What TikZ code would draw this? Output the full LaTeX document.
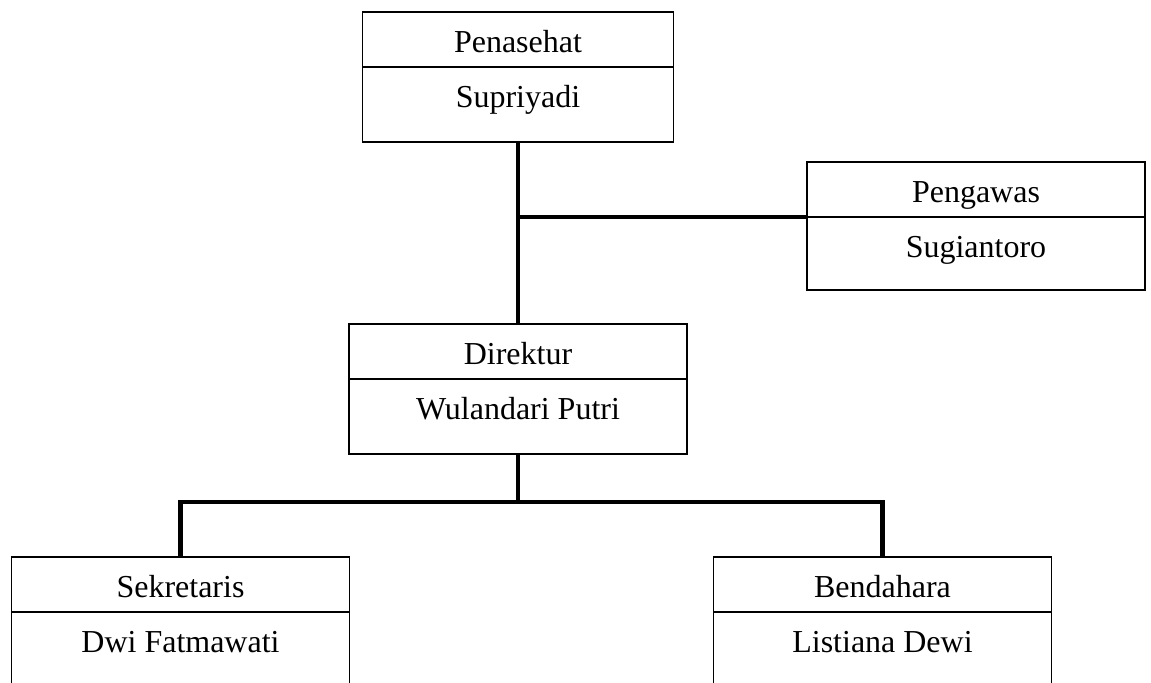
\documentclass[tikz,border=0pt]{standalone}
\usepackage{fontspec}
\setmainfont{Liberation Serif}
\usetikzlibrary{positioning}
\tikzstyle{jabatan} = [rectangle, draw=black, line width=1.1pt, minimum width=6.76cm, inner xsep=0pt, inner ysep=0pt, outer sep=0pt, text height=0.8cm, text depth=0.3cm, anchor=north, text centered, font=\fontsize{18.2}{22}\selectfont]
\tikzstyle{nama} = [jabatan, text depth=0.7cm]
\tikzstyle{garis} = [line width=2.3pt]

\begin{document}
\begin{tikzpicture}
\useasboundingbox (0,0) rectangle (23.02,-13.64);
\clip (0,0) rectangle (23.02,-13.64);

\node (penasehat) [jabatan, minimum width=6.22cm] at (10.36,-0.24) {Penasehat};
\node (nama_penasehat) [nama, minimum width=6.22cm, below=0pt of penasehat] {Supriyadi};

\node (pengawas) [jabatan] at (19.52,-3.24) {Pengawas};
\node (nama_pengawas) [nama, text depth=0.66cm, below=0pt of pengawas] {Sugiantoro};

\node (direktur) [jabatan] at (10.36,-6.48) {Direktur};
\node (nama_direktur) [nama, below=0pt of direktur] {Wulandari Putri};

\node (sekretaris) [jabatan] at (3.61,-11.14) {Sekretaris};
\node (nama_sekretaris) [nama, below=0pt of sekretaris] {Dwi Fatmawati};

\node (bendahara) [jabatan] at (17.65,-11.14) {Bendahara};
\node (nama_bendahara) [nama, below=0pt of bendahara] {Listiana Dewi};

\coordinate (cabang) at ([yshift=-0.96cm]nama_direktur.south);

\draw [garis] (nama_penasehat.south) -- (direktur.north);
\draw [garis] (pengawas.south west) -- (pengawas.south west -| nama_penasehat.south);

\draw [garis] (nama_direktur.south) -- (cabang);
\draw [garis] (cabang) -| (sekretaris.north);
\draw [garis] (cabang) -| (bendahara.north);

\end{tikzpicture}
\end{document}
